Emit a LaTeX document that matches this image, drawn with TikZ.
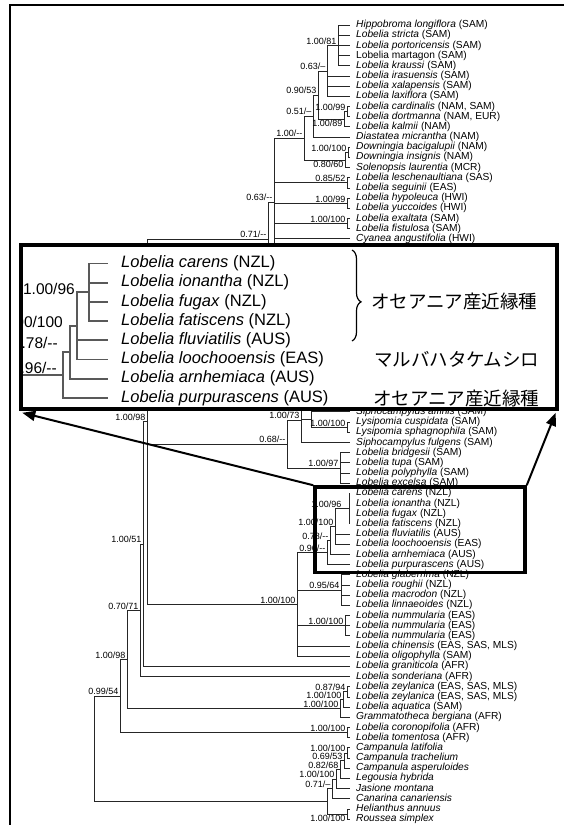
\documentclass[tikz,border=0pt]{standalone}
\usepackage{fontspec}
\setmainfont{Liberation Sans}
\newfontfamily\jpfont{Noto Sans CJK JP}
\usetikzlibrary{positioning,arrows.meta,decorations.pathreplacing}

\tikzset{
  br/.style={draw=black!85, line width=0.8pt},
  ibr/.style={draw=black!65, line width=1.9pt},
  tip/.style={anchor=west, inner xsep=6pt, inner ysep=0pt, text height=7.3pt, text depth=2.1pt,
              font=\fontsize{10.2}{12}\selectfont},
  itip/.style={anchor=west, inner xsep=13pt, inner ysep=0pt, text height=11.8pt, text depth=3.4pt,
               font=\fontsize{16.5}{19}\selectfont},
  lab/.style={anchor=south east, inner sep=0pt, xshift=-1.5pt, yshift=0.8pt,
              font=\fontsize{9}{10}\selectfont},
  labb/.style={lab, anchor=north east, yshift=-1.6pt},
  ilab/.style={anchor=east, inner sep=0pt, font=\fontsize{15.5}{17}\selectfont},
  jp/.style={anchor=west, inner sep=0pt, font=\jpfont\fontsize{18.5}{20}\selectfont},
  thickbox/.style={draw=black, line width=3.5pt, inner sep=0pt},
  bigarrow/.style={line width=2pt, -{Triangle[length=13pt,width=10pt]}}
}

\begin{document}
\begin{tikzpicture}[x=1pt, y=-1pt]
  \useasboundingbox (0,0) rectangle (564,825);
  % frame
  \draw[line width=1.6pt] (564,5) -- (10,5) -- (10,825);

  % tips, upper part
  \node[tip] (t0) at (350,25.0) {\textit{Hippobroma longiflora} (SAM)};
  \node[tip] (t1) at (350,35.2) {\textit{Lobelia stricta} (SAM)};
  \node[tip] (t2) at (350,45.4) {\textit{Lobelia portoricensis} (SAM)};
  \node[tip] (t3) at (350,55.5) {Lobelia martagon (SAM)};
  \node[tip] (t4) at (350,65.7) {\textit{Lobelia kraussi} (SAM)};
  \node[tip] (t5) at (350,75.9) {\textit{Lobelia irasuensis} (SAM)};
  \node[tip] (t6) at (350,86.1) {\textit{Lobelia xalapensis} (SAM)};
  \node[tip] (t7) at (350,96.3) {\textit{Lobelia laxiflora} (SAM)};
  \node[tip] (t8) at (350,106.4) {\textit{Lobelia cardinalis} (NAM, SAM)};
  \node[tip] (t9) at (350,116.6) {\textit{Lobelia dortmanna} (NAM, EUR)};
  \node[tip] (t10) at (350,126.8) {\textit{Lobelia kalmii} (NAM)};
  \node[tip] (t11) at (350,137.0) {\textit{Diastatea micrantha} (NAM)};
  \node[tip] (t12) at (350,147.2) {\textit{Downingia bacigalupii} (NAM)};
  \node[tip] (t13) at (350,157.3) {\textit{Downingia insignis} (NAM)};
  \node[tip] (t14) at (350,167.5) {\textit{Solenopsis laurentia} (MCR)};
  \node[tip] (t15) at (350,177.7) {\textit{Lobelia leschenaultiana} (SAS)};
  \node[tip] (t16) at (350,187.9) {\textit{Lobelia seguinii} (EAS)};
  \node[tip] (t17) at (350,198.1) {\textit{Lobelia hypoleuca} (HWI)};
  \node[tip] (t18) at (350,208.2) {\textit{Lobelia yuccoides} (HWI)};
  \node[tip] (t19) at (350,218.4) {\textit{Lobelia exaltata} (SAM)};
  \node[tip] (t20) at (350,228.6) {\textit{Lobelia fistulosa} (SAM)};
  \node[tip] (t21) at (350,238.8) {\textit{Cyanea angustifolia} (HWI)};

  % tips, lower part
  \node[tip] (t38) at (350,411.8) {\textit{Siphocampylus affinis} (SAM)};
  \node[tip] (t39) at (350,422.0) {\textit{Lysipomia cuspidata} (SAM)};
  \node[tip] (t40) at (350,432.2) {\textit{Lysipomia sphagnophila} (SAM)};
  \node[tip] (t41) at (350,442.4) {\textit{Siphocampylus fulgens} (SAM)};
  \node[tip] (t42) at (350,452.6) {\textit{Lobelia bridgesii} (SAM)};
  \node[tip] (t43) at (350,462.7) {\textit{Lobelia tupa} (SAM)};
  \node[tip] (t44) at (350,472.9) {\textit{Lobelia polyphylla} (SAM)};
  \node[tip] (t45) at (350,483.1) {\textit{Lobelia excelsa} (SAM)};
  \node[tip] (t46) at (350,493.3) {\textit{Lobelia carens} (NZL)};
  \node[tip] (t47) at (350,503.5) {\textit{Lobelia ionantha} (NZL)};
  \node[tip] (t48) at (350,513.6) {\textit{Lobelia fugax} (NZL)};
  \node[tip] (t49) at (350,523.8) {\textit{Lobelia fatiscens} (NZL)};
  \node[tip] (t50) at (350,534.0) {\textit{Lobelia fluviatilis} (AUS)};
  \node[tip] (t51) at (350,544.2) {\textit{Lobelia loochooensis} (EAS)};
  \node[tip] (t52) at (350,554.4) {\textit{Lobelia arnhemiaca} (AUS)};
  \node[tip] (t53) at (350,564.5) {\textit{Lobelia purpurascens} (AUS)};
  \node[tip] (t54) at (350,574.7) {\textit{Lobelia glaberrima} (NZL)};
  \node[tip] (t55) at (350,584.9) {\textit{Lobelia roughii} (NZL)};
  \node[tip] (t56) at (350,595.1) {\textit{Lobelia macrodon} (NZL)};
  \node[tip] (t57) at (350,605.3) {\textit{Lobelia linnaeoides} (NZL)};
  \node[tip] (t58) at (350,615.4) {\textit{Lobelia nummularia} (EAS)};
  \node[tip] (t59) at (350,625.6) {\textit{Lobelia nummularia} (EAS)};
  \node[tip] (t60) at (350,635.8) {\textit{Lobelia nummularia} (EAS)};
  \node[tip] (t61) at (350,646.0) {\textit{Lobelia chinensis} (EAS, SAS, MLS)};
  \node[tip] (t62) at (350,656.2) {\textit{Lobelia oligophylla} (SAM)};
  \node[tip] (t63) at (350,666.3) {\textit{Lobelia graniticola} (AFR)};
  \node[tip] (t64) at (350,676.5) {\textit{Lobelia sonderiana} (AFR)};
  \node[tip] (t65) at (350,686.7) {\textit{Lobelia zeylanica} (EAS, SAS, MLS)};
  \node[tip] (t66) at (350,696.9) {\textit{Lobelia zeylanica} (EAS, SAS, MLS)};
  \node[tip] (t67) at (350,707.1) {\textit{Lobelia aquatica} (SAM)};
  \node[tip] (t68) at (350,717.2) {\textit{Grammatotheca bergiana} (AFR)};
  \node[tip] (t69) at (350,727.4) {\textit{Lobelia coronopifolia} (AFR)};
  \node[tip] (t70) at (350,737.6) {\textit{Lobelia tomentosa} (AFR)};
  \node[tip] (t71) at (350,747.8) {\textit{Campanula latifolia}};
  \node[tip] (t72) at (350,758.0) {\textit{Campanula trachelium}};
  \node[tip] (t73) at (350,768.1) {\textit{Campanula asperuloides}};
  \node[tip] (t74) at (350,778.3) {\textit{Legousia hybrida}};
  \node[tip] (t75) at (350,788.5) {\textit{Jasione montana}};
  \node[tip] (t76) at (350,798.7) {\textit{Canarina canariensis}};
  \node[tip] (t77) at (350,808.9) {\textit{Helianthus annuus}};
  \node[tip] (t78) at (350,819.0) {\textit{Roussea simplex}};

  % branching points
  \coordinate (nHip) at (338,45.4);
  \coordinate (nLax) at (327,70.9);
  \coordinate (nCar) at (347,111.5);
  \coordinate (nKal) at (344,119.2);
  \coordinate (nAme) at (318,95.0);
  \coordinate (nDia) at (313,116.0);
  \coordinate (nDow) at (348,152.3);
  \coordinate (nSol) at (345,159.9);
  \coordinate (nNeo) at (304,138.0);
  \coordinate (nLes) at (347,182.8);
  \coordinate (nHyp) at (347,203.2);
  \coordinate (nExa) at (347,223.5);
  \coordinate (nLob) at (274,202.0);
  \coordinate (nLobEnd) at (274,300);
  \coordinate (nTop) at (268,239.0);
  \coordinate (nTopEnd) at (268,300);
  \coordinate (nCore) at (147,421.7);
  \coordinate (nSip) at (311,419.5);
  \coordinate (nLys) at (347,427.1);
  \coordinate (nAnd) at (301,420.0);
  \coordinate (nAndEnd) at (301,398);
  \coordinate (nTupa) at (340,467.9);
  \coordinate (nSam) at (287,444.0);
  \coordinate (nNzl) at (349,508.6);
  \coordinate (nFlu) at (335,526.4);
  \coordinate (nArn) at (330,540.4);
  \coordinate (nPur) at (327,552.5);
  \coordinate (nGla) at (341,590.0);
  \coordinate (nNum) at (345,625.6);
  \coordinate (nAsia) at (297,604.3);
  \coordinate (nGra) at (143,544.0);
  \coordinate (nSon) at (140,610.3);
  \coordinate (nZey) at (347,691.8);
  \coordinate (nAqu) at (343,699.4);
  \coordinate (nGrm) at (340,708.3);
  \coordinate (nAfr) at (127,659.3);
  \coordinate (nCor) at (347,732.5);
  \coordinate (nLobe) at (120,695.9);
  \coordinate (nCam) at (347,752.9);
  \coordinate (nAsp) at (344,760.5);
  \coordinate (nLeg) at (340,769.4);
  \coordinate (nJas) at (336,779.0);
  \coordinate (nCan) at (332,788.8);
  \coordinate (nHel) at (347,814.0);
  \coordinate (nOut) at (327,801.4);
  \coordinate (nRoot) at (94,748.6);

  % branches
  \draw[br] (nHip) |- (t0.west) (nHip) |- (t1.west) (nHip) |- (t2.west) (nHip) |- (t3.west) (nHip) |- (t4.west);
  \draw[br] (nLax) |- (nHip) (nLax) |- (t5.west) (nLax) |- (t6.west) (nLax) |- (t7.west);
  \draw[br] (nCar) |- (t8.west) (nCar) |- (t9.west);
  \draw[br] (nKal) |- (nCar) (nKal) |- (t10.west);
  \draw[br] (nAme) |- (nLax) (nAme) |- (nKal);
  \draw[br] (nDia) |- (nAme) (nDia) |- (t11.west);
  \draw[br] (nDow) |- (t12.west) (nDow) |- (t13.west);
  \draw[br] (nSol) |- (nDow) (nSol) |- (t14.west);
  \draw[br] (nNeo) |- (nDia) (nNeo) |- (nSol);
  \draw[br] (nLes) |- (t15.west) (nLes) |- (t16.west);
  \draw[br] (nHyp) |- (t17.west) (nHyp) |- (t18.west);
  \draw[br] (nExa) |- (t19.west) (nExa) |- (t20.west);
  \draw[br] (nLob) |- (nNeo) (nLob) |- (nLes) (nLob) |- (nHyp) (nLob) |- (nExa)
            (nLob) |- (t21.west) (nLob) -- (nLobEnd);
  \draw[br] (nTop) |- (nLob) (nTop) -- (nTopEnd);
  \draw[br] (nCore) |- (nTop) (nCore) |- (nSam) (nCore) |- (nAsia);
  \draw[br] (nSip) |- (t38.west) (nSip) |- (nLys);
  \draw[br] (nLys) |- (t39.west) (nLys) |- (t40.west);
  \draw[br] (nAnd) |- (nSip) (nAnd) |- (t41.west) (nAnd) -- (nAndEnd);
  \draw[br] (nTupa) |- (t42.west) (nTupa) |- (t43.west) (nTupa) |- (t44.west) (nTupa) |- (t45.west);
  \draw[br] (nSam) |- (nAnd) (nSam) |- (nTupa);
  \draw[br] (nNzl) |- (t46.west) (nNzl) |- (t47.west) (nNzl) |- (t48.west) (nNzl) |- (t49.west);
  \draw[br] (nFlu) |- (nNzl) (nFlu) |- (t50.west) (nFlu) |- (t51.west);
  \draw[br] (nArn) |- (nFlu) (nArn) |- (t52.west);
  \draw[br] (nPur) |- (nArn) (nPur) |- (t53.west);
  \draw[br] (nGla) |- (t54.west) (nGla) |- (t55.west) (nGla) |- (t56.west) (nGla) |- (t57.west);
  \draw[br] (nNum) |- (t58.west) (nNum) |- (t59.west) (nNum) |- (t60.west);
  \draw[br] (nAsia) |- (nPur) (nAsia) |- (nGla) (nAsia) |- (nNum) (nAsia) |- (t61.west) (nAsia) |- (t62.west);
  \draw[br] (nGra) |- (nCore) (nGra) |- (t63.west);
  \draw[br] (nSon) |- (nGra) (nSon) |- (t64.west);
  \draw[br] (nZey) |- (t65.west) (nZey) |- (t66.west);
  \draw[br] (nAqu) |- (nZey) (nAqu) |- (t67.west);
  \draw[br] (nGrm) |- (nAqu) (nGrm) |- (t68.west);
  \draw[br] (nAfr) |- (nSon) (nAfr) |- (nGrm);
  \draw[br] (nCor) |- (t69.west) (nCor) |- (t70.west);
  \draw[br] (nLobe) |- (nAfr) (nLobe) |- (nCor);
  \draw[br] (nCam) |- (t71.west) (nCam) |- (t72.west);
  \draw[br] (nAsp) |- (nCam) (nAsp) |- (t73.west);
  \draw[br] (nLeg) |- (nAsp) (nLeg) |- (t74.west);
  \draw[br] (nJas) |- (nLeg) (nJas) |- (t75.west);
  \draw[br] (nCan) |- (nJas) (nCan) |- (t76.west);
  \draw[br] (nHel) |- (t77.west) (nHel) |- (t78.west);
  \draw[br] (nOut) |- (nCan) (nOut) |- (nHel);
  \draw[br] (nRoot) |- (nLobe) (nRoot) |- (nOut);

  % support values
  \node[lab] (sHip) at (nHip) {1.00/81};
  \node[lab] (sLax) at (nLax) {0.63/--};
  \node[lab] (sAme) at (nAme) {0.90/53};
  \node[lab] (sDia) at (nDia) {0.51/--};
  \node[lab] (sCar) at (nCar) {1.00/99};
  \node[labb] (sKal) at (nKal) {1.00/89};
  \node[lab] (sNeo) at (nNeo) {1.00/-{}-};
  \node[lab] (sDow) at (nDow) {1.00/100};
  \node[labb] (sSol) at (nSol) {0.80/60};
  \node[lab] (sLes) at (nLes) {0.85/52};
  \node[lab] (sLob) at (nLob) {0.63/-{}-};
  \node[lab] (sHyp) at (nHyp) {1.00/99};
  \node[lab] (sExa) at (nExa) {1.00/100};
  \node[lab] (sTop) at (nTop) {0.71/-{}-};
  \node[lab] (sCore) at (nCore) {1.00/98};
  \node[lab] (sAnd) at (nAnd) {1.00/73};
  \node[lab] (sLys) at (nLys) {1.00/100};
  \node[lab] (sSam) at (nSam) {0.68/-{}-};
  \node[lab] (sTupa) at (nTupa) {1.00/97};
  \node[lab, xshift=-6pt] (sNzl) at (nNzl) {1.00/96};
  \node[lab] (sFlu) at (nFlu) {1.00/100};
  \node[lab] (sArn) at (nArn) {0.78/-{}-};
  \node[lab] (sPur) at (nPur) {0.96/-{}-};
  \node[lab] (sAsia) at (nAsia) {1.00/100};
  \node[lab] (sGla) at (nGla) {0.95/64};
  \node[lab] (sNum) at (nNum) {1.00/100};
  \node[lab] (sGra) at (nGra) {1.00/51};
  \node[lab] (sSon) at (nSon) {0.70/71};
  \node[lab] (sAfr) at (nAfr) {1.00/98};
  \node[lab] (sLobe) at (nLobe) {0.99/54};
  \node[lab] (sZey) at (nZey) {0.87/94};
  \node[lab] (sAqu) at (nAqu) {1.00/100};
  \node[lab] (sGrm) at (nGrm) {1.00/100};
  \node[lab] (sCor) at (nCor) {1.00/100};
  \node[lab] (sCam) at (nCam) {1.00/100};
  \node[lab] (sAsp) at (nAsp) {0.69/53};
  \node[lab] (sLeg) at (nLeg) {0.82/68};
  \node[lab] (sJas) at (nJas) {1.00/100};
  \node[lab] (sCan) at (nCan) {0.71/--};
  \node[labb] (sHel) at (nHel) {1.00/100};

  % small frame round the Oceanian clade
  \node[thickbox, minimum width=210pt, minimum height=85.5pt] (smallbox) at (420,529.75) {};

  % enlarged view
  \node[thickbox, fill=white, minimum width=536pt, minimum height=164pt] (zoombox) at (289,327) {};
  \begin{scope}
    \clip (23,247) rectangle (555,407);
    \node[itip] (i0) at (108,263.5) {\textit{Lobelia carens} (NZL)};
    \node[itip] (i1) at (108,282.7) {\textit{Lobelia ionantha} (NZL)};
    \node[itip] (i2) at (108,301.9) {\textit{Lobelia fugax} (NZL)};
    \node[itip] (i3) at (108,321.1) {\textit{Lobelia fatiscens} (NZL)};
    \node[itip] (i4) at (108,340.3) {\textit{Lobelia fluviatilis} (AUS)};
    \node[itip] (i5) at (108,359.5) {\textit{Lobelia loochooensis} (EAS)};
    \node[itip] (i6) at (108,378.7) {\textit{Lobelia arnhemiaca} (AUS)};
    \node[itip] (i7) at (108,397.9) {\textit{Lobelia purpurascens} (AUS)};
    \coordinate (iNzl) at (89,292.3);
    \coordinate (iFlu) at (77,325.9);
    \coordinate (iArn) at (70,352.3);
    \coordinate (iPur) at (63,375.1);
    \coordinate (iStem) at (20,375.1);
    \draw[ibr] (iNzl) |- (i0.west) (iNzl) |- (i1.west) (iNzl) |- (i2.west) (iNzl) |- (i3.west);
    \draw[ibr] (iFlu) |- (iNzl) (iFlu) |- (i4.west) (iFlu) |- (i5.west);
    \draw[ibr] (iArn) |- (iFlu) (iArn) |- (i6.west);
    \draw[ibr] (iPur) |- (iArn) (iPur) |- (i7.west);
    \draw[ibr] (iStem) -- (iPur);
    \node[ilab] (iNzlLab) at (75,289) {1.00/96};
    \node[ilab] (iFluLab) at (63,322) {1.00/100};
    \node[ilab] (iArnLab) at (58,343) {0.78/-{}-};
    \node[ilab] (iPurLab) at (57,368) {0.96/-{}-};
    % brace and Japanese notes
    \coordinate (braceTop) at (352,250);
    \coordinate (braceBot) at (352,341);
    \draw[line width=1.2pt, decorate, decoration={brace, amplitude=9pt, aspect=0.57}] (braceTop) -- (braceBot);
    \node[jp] (jpNzl) at (371,301.9) {オセアニア産近縁種};
    \node[jp] (jpLoo) at (374,359.5) {マルバハタケムシロ};
    \node[jp] (jpAus) at (373,398.5) {オセアニア産近縁種};
  \end{scope}

  % arrows from small frame to enlarged view
  \draw[bigarrow] (smallbox.north west) -- ([xshift=3pt,yshift=-2pt]zoombox.south west);
  \draw[bigarrow] (smallbox.north east) -- ([xshift=-3pt,yshift=-2pt]zoombox.south east);
\end{tikzpicture}
\end{document}
